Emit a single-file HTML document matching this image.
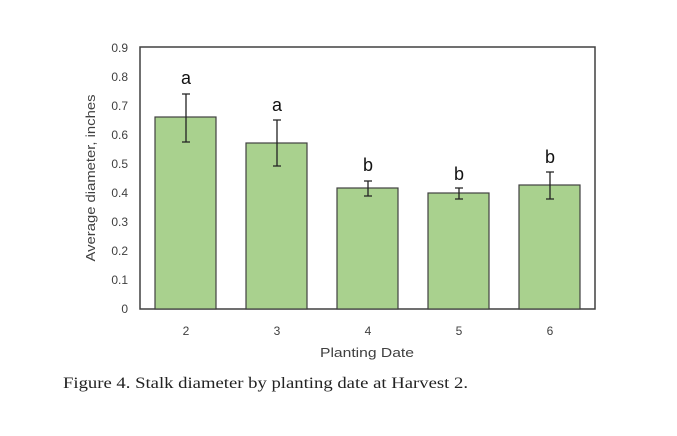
<!DOCTYPE html>
<html><head><style>body{margin:0;background:#fff}</style></head><body>
<svg width="677" height="431" xmlns="http://www.w3.org/2000/svg" font-family="Liberation Sans, sans-serif">
<rect x="140" y="47" width="455" height="262" fill="none" stroke="#404040" stroke-width="1.5"/>
<g font-size="12" fill="#404040" text-anchor="end">
<text x="128" y="313">0</text><text x="128" y="284">0.1</text><text x="128" y="255">0.2</text>
<text x="128" y="226">0.3</text><text x="128" y="197">0.4</text><text x="128" y="168">0.5</text>
<text x="128" y="139">0.6</text><text x="128" y="110">0.7</text><text x="128" y="81">0.8</text><text x="128" y="52">0.9</text>
</g>
<text transform="translate(95,178) rotate(-90)" font-size="13" fill="#404040" text-anchor="middle" textLength="167" lengthAdjust="spacingAndGlyphs">Average diameter, inches</text>
<g fill="#a9d18e" stroke="#404040" stroke-width="1.2">
<rect x="155" y="117" width="61" height="192"/>
<rect x="246" y="143" width="61" height="166"/>
<rect x="337" y="188" width="61" height="121"/>
<rect x="428" y="193" width="61" height="116"/>
<rect x="519" y="185" width="61" height="124"/>
</g>
<g stroke="#222" stroke-width="1.3">
<path d="M186 94V142M182 94H190M182 142H190"/>
<path d="M277 120V166M273 120H281M273 166H281"/>
<path d="M368 181V196M364 181H372M364 196H372"/>
<path d="M459 188V199M455 188H463M455 199H463"/>
<path d="M550 172V199M546 172H554M546 199H554"/>
</g>
<g font-size="18" fill="#111" text-anchor="middle">
<text x="186" y="84">a</text><text x="277" y="111">a</text><text x="368" y="171">b</text>
<text x="459" y="180">b</text><text x="550" y="163">b</text>
</g>
<g font-size="12" fill="#404040" text-anchor="middle">
<text x="186" y="335">2</text><text x="277" y="335">3</text><text x="368" y="335">4</text>
<text x="459" y="335">5</text><text x="550" y="335">6</text>
</g>
<text x="320" y="357" font-size="13" fill="#404040" textLength="94" lengthAdjust="spacingAndGlyphs">Planting  Date</text>
<text x="63" y="388" font-family="Liberation Serif, serif" font-size="16" fill="#222" textLength="405" lengthAdjust="spacingAndGlyphs">Figure 4. Stalk diameter by planting date at Harvest 2.</text>
</svg>
</body></html>
